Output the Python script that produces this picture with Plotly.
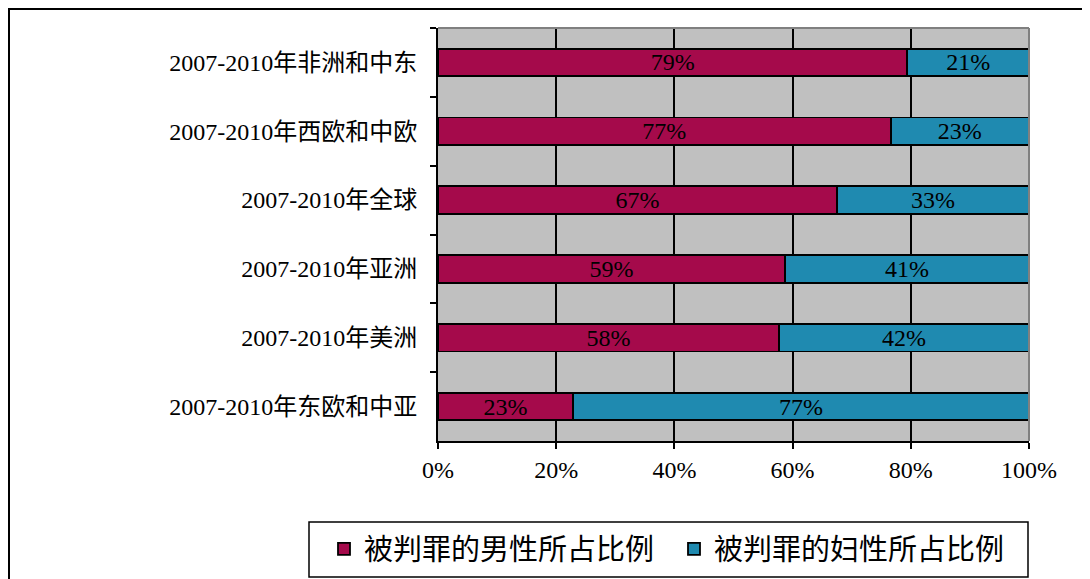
import plotly.graph_objects as go

categories = [
    "2007-2010年非洲和中东",
    "2007-2010年西欧和中欧",
    "2007-2010年全球",
    "2007-2010年亚洲",
    "2007-2010年美洲",
    "2007-2010年东欧和中亚",
]
male_share = [79.4, 76.6, 67.5, 58.7, 57.7, 22.8]
female_share = [20.6, 23.4, 32.5, 41.3, 42.3, 77.2]
male_labels = ["79%", "77%", "67%", "59%", "58%", "23%"]
female_labels = ["21%", "23%", "33%", "41%", "42%", "77%"]
x_ticks = [0, 20, 40, 60, 80, 100]
x_tick_labels = ["0%", "20%", "40%", "60%", "80%", "100%"]
series_names = ["被判罪的男性所占比例", "被判罪的妇性所占比例"]

# page body has an 8px default margin; compensate so screen pixels match
OFF = 8
W, H = 1090, 579
L, T = 438 - OFF, 28 - OFF
R = W - (1029 - OFF)
B = H - (441 - OFF)
PW = W - L - R
PH = H - T - B

def px_x(p):
    return (p - OFF - L) / PW

def px_y(p):
    return (H - B - (p - OFF)) / PH

SERIF = "Liberation Serif, Times New Roman, Noto Sans CJK SC, serif"
CJK = "Noto Sans CJK SC, Liberation Serif, serif"

fig = go.Figure()
fig.add_trace(go.Bar(
    y=categories, x=male_share, orientation="h", name=series_names[0],
    marker=dict(color="#A50A4B", line=dict(color="black", width=1.8)),
    text=male_labels, textposition="inside", insidetextanchor="middle",
    constraintext="none", textangle=0,
    textfont=dict(family=SERIF, size=24, color="black"),
))
fig.add_trace(go.Bar(
    y=categories, x=female_share, orientation="h", name=series_names[1],
    marker=dict(color="#1F8AB0", line=dict(color="black", width=1.8)),
    text=female_labels, textposition="inside", insidetextanchor="middle",
    constraintext="none", textangle=0,
    textfont=dict(family=SERIF, size=24, color="black"),
))

shapes = [
    # outer chart frame (as close to the page edge as the figure allows)
    dict(type="rect", xref="paper", yref="paper",
         x0=px_x(9), x1=px_x(1120), y0=px_y(620), y1=px_y(9),
         line=dict(color="black", width=2), fillcolor="rgba(0,0,0,0)", layer="below"),
    # plot area top and right border (gray)
    dict(type="line", xref="paper", yref="paper", x0=0, x1=1, y0=1, y1=1,
         line=dict(color="#808080", width=2), layer="above"),
    dict(type="line", xref="paper", yref="paper", x0=1, x1=1, y0=0, y1=1,
         line=dict(color="#808080", width=2), layer="above"),
    # legend box
    dict(type="rect", xref="paper", yref="paper",
         x0=px_x(309), x1=px_x(1028), y0=px_y(577), y1=px_y(522),
         line=dict(color="black", width=1.5), fillcolor="white", layer="below"),
]

fig.update_layout(
    width=W, height=H,
    margin=dict(l=L, r=R, t=T, b=B, pad=0),
    barmode="stack", bargap=0.6,
    plot_bgcolor="#C0C0C0", paper_bgcolor="white",
    font=dict(family=SERIF, size=24, color="black"),
    showlegend=True,
    legend=dict(orientation="h", x=px_x(324), xanchor="left",
                y=px_y(549), yanchor="middle",
                font=dict(family=CJK, size=29, color="black"),
                bgcolor="rgba(0,0,0,0)", borderwidth=0,
                entrywidth=305, entrywidthmode="pixels",
                traceorder="normal"),
    shapes=shapes,
)
fig.update_xaxes(
    range=[0, 100], tickvals=x_ticks, ticktext=x_tick_labels,
    showgrid=True, gridcolor="black", gridwidth=1.8,
    showline=True, linecolor="black", linewidth=2,
    ticks="outside", ticklen=6, tickwidth=1.5, tickcolor="black",
    ticklabelstandoff=0, zeroline=False,
    tickfont=dict(family=SERIF, size=24, color="black"),
)
fig.update_yaxes(
    autorange="reversed", type="category",
    showgrid=False, showline=True, linecolor="black", linewidth=2,
    ticks="outside", tickson="boundaries", ticklen=6, tickwidth=1.5, tickcolor="black",
    ticklabelstandoff=14,
    tickfont=dict(family=SERIF, size=24, color="black"),
)

fig.write_html("out.html")
